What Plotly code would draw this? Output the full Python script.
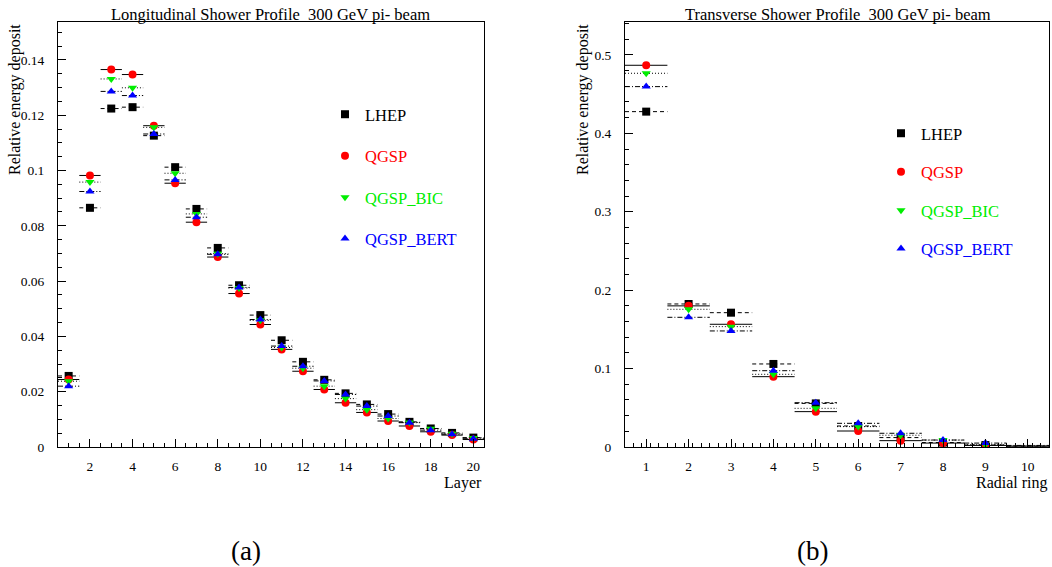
import plotly.graph_objects as go

# ---------------- data ----------------
layers = list(range(1, 21))
long_lhep = [0.0257, 0.0865, 0.1224, 0.1229, 0.1126, 0.1012, 0.0861, 0.0720, 0.0585, 0.0477,
             0.0386, 0.0308, 0.0243, 0.0194, 0.0154, 0.0119, 0.0091, 0.0067, 0.0051, 0.0034]
long_qgsp = [0.0244, 0.0982, 0.1365, 0.1347, 0.1162, 0.0954, 0.0813, 0.0687, 0.0555, 0.0443,
             0.0353, 0.0274, 0.0208, 0.0160, 0.0125, 0.0094, 0.0076, 0.0055, 0.0043, 0.0027]
long_bic = [0.0238, 0.0958, 0.1331, 0.1299, 0.1156, 0.0990, 0.0843, 0.0699, 0.0575, 0.0458,
            0.0360, 0.0285, 0.0220, 0.0175, 0.0135, 0.0103, 0.0089, 0.0066, 0.0048, 0.0033]
long_bert = [0.0220, 0.0924, 0.1286, 0.1271, 0.1132, 0.0966, 0.0831, 0.0697, 0.0577, 0.0461,
             0.0365, 0.0292, 0.0239, 0.0190, 0.0148, 0.0112, 0.0088, 0.0061, 0.0046, 0.0030]

rings = list(range(1, 11))
trans_lhep = [0.4277, 0.1824, 0.1713, 0.1059, 0.0556, 0.0268, 0.0120, 0.0057, 0.0025, 0.0012]
trans_qgsp = [0.4868, 0.1800, 0.1565, 0.0897, 0.0451, 0.0204, 0.0081, 0.0050, 0.0020, 0.0010]
trans_bic = [0.4766, 0.1756, 0.1535, 0.0927, 0.0493, 0.0260, 0.0150, 0.0088, 0.0030, 0.0015]
trans_bert = [0.4596, 0.1654, 0.1480, 0.0973, 0.0565, 0.0302, 0.0175, 0.0089, 0.0050, 0.0020]
n_ring_markers = 9  # markers visible for rings 1..9

series_names = ["LHEP", "QGSP", "QGSP_BIC", "QGSP_BERT"]
colors = ["#000000", "#ff0000", "#00ee00", "#0000ff"]
symbols = ["square", "circle", "triangle-down", "triangle-up"]
dashes = ["4px,3px", "solid", "1px,2px", "5px,2px,1px,2px"]

titles = ["Longitudinal Shower Profile  300 GeV pi- beam",
          "Transverse Shower Profile  300 GeV pi- beam"]
x_titles = ["Layer", "Radial ring"]
y_title = "Relative energy deposit"
panel_labels = ["(a)", "(b)"]

FONT = "Liberation Serif"
W, H = 1052, 567


def segs(xs, vs):
    sx, sy = [], []
    for x, v in zip(xs, vs):
        sx += [x - 0.5, x + 0.5, None]
        sy += [v, v, None]
    return sx, sy


fig = go.Figure()

panels = [
    ("x", "y", "legend", layers, [long_lhep, long_qgsp, long_bic, long_bert], len(layers)),
    ("x2", "y2", "legend2", rings, [trans_lhep, trans_qgsp, trans_bic, trans_bert], n_ring_markers),
]

for xa, ya, leg, xs, data, nm in panels:
    for vals, dash in zip(data, dashes):
        sx, sy = segs(xs, vals)
        fig.add_trace(go.Scatter(x=sx, y=sy, xaxis=xa, yaxis=ya, mode="lines",
                                 line=dict(color="black", width=1, dash=dash),
                                 showlegend=False, hoverinfo="skip"))
    for name, vals, col, sym in zip(series_names, data, colors, symbols):
        fig.add_trace(go.Scatter(x=xs[:nm], y=vals[:nm], xaxis=xa, yaxis=ya, mode="markers",
                                 marker=dict(symbol=sym, color=col, size=8, line=dict(width=0)),
                                 name=f'<span style="color:{col}">{name}</span>',
                                 legend=leg, legendgroup=leg + name))


def px_x(p):
    return p / W


def px_y(p):
    return 1 - p / H


ydom = [px_y(447), px_y(22)]
tickfont = dict(family=FONT, size=13.5, color="black")
common_axis = dict(showline=True, mirror=True, linecolor="black", linewidth=1,
                   ticks="inside", ticklen=8, tickcolor="black", tickwidth=1,
                   showgrid=False, zeroline=False, tickfont=tickfont, automargin=False)

fig.update_layout(
    width=W, height=H,
    margin=dict(l=0, r=0, t=0, b=0),
    paper_bgcolor="white", plot_bgcolor="white",
    font=dict(family=FONT, size=15, color="black"),
    xaxis=dict(domain=[px_x(58), px_x(484)], range=[0.5, 20.5], tick0=0, dtick=2,
               minor=dict(dtick=0.5, tick0=0.5, ticks="inside", ticklen=4, tickcolor="black"),
               anchor="y", ticklabelstandoff=7, **common_axis),
    yaxis=dict(domain=ydom, range=[0, 0.1537], tick0=0, dtick=0.02,
               minor=dict(dtick=0.005, ticks="inside", ticklen=4, tickcolor="black"),
               anchor="x", ticklabelstandoff=10, **common_axis),
    xaxis2=dict(domain=[px_x(625), px_x(1049)], range=[0.5, 10.5], tick0=0, dtick=1,
                minor=dict(dtick=0.2, tick0=0.5, ticks="inside", ticklen=4, tickcolor="black"),
                anchor="y2", ticklabelstandoff=7, **common_axis),
    yaxis2=dict(domain=ydom, range=[0, 0.542], tick0=0, dtick=0.1,
                minor=dict(dtick=0.02, ticks="inside", ticklen=4, tickcolor="black"),
                anchor="x2", ticklabelstandoff=10, **common_axis),
    legend=dict(x=px_x(325), y=px_y(97), xanchor="left", yanchor="top",
                bgcolor="rgba(0,0,0,0)", borderwidth=0, traceorder="grouped",
                tracegroupgap=17, font=dict(family=FONT, size=16.5), itemwidth=30),
    legend2=dict(x=px_x(881), y=px_y(116), xanchor="left", yanchor="top",
                 bgcolor="rgba(0,0,0,0)", borderwidth=0, traceorder="grouped",
                 tracegroupgap=14, font=dict(family=FONT, size=16.5), itemwidth=30),
)

ann = []
for t, cx in zip(titles, [270, 838]):
    ann.append(dict(text=t, x=px_x(cx), y=px_y(14), xref="paper", yref="paper",
                    xanchor="center", yanchor="middle", showarrow=False,
                    font=dict(family=FONT, size=16.5)))
for t, rx in zip(x_titles, [484, 1050]):
    ann.append(dict(text=t, x=px_x(rx), y=px_y(483), xref="paper", yref="paper",
                    xanchor="right", yanchor="middle", showarrow=False,
                    font=dict(family=FONT, size=16)))
for cx in [15, 583]:
    ann.append(dict(text=y_title, x=px_x(cx), y=px_y(100), xref="paper", yref="paper",
                    xanchor="center", yanchor="middle", showarrow=False, textangle=-90,
                    font=dict(family=FONT, size=16)))
for t, cx in zip(panel_labels, [246, 812]):
    ann.append(dict(text=t, x=px_x(cx), y=px_y(551), xref="paper", yref="paper",
                    xanchor="center", yanchor="middle", showarrow=False,
                    font=dict(family=FONT, size=27)))
fig.update_layout(annotations=ann)

# remove the default 8px page margin so the figure fills the window exactly
fig.write_html("out.html",
               config={"displayModeBar": False},
               post_script="document.body.style.margin='0';document.body.style.overflow='hidden';")
